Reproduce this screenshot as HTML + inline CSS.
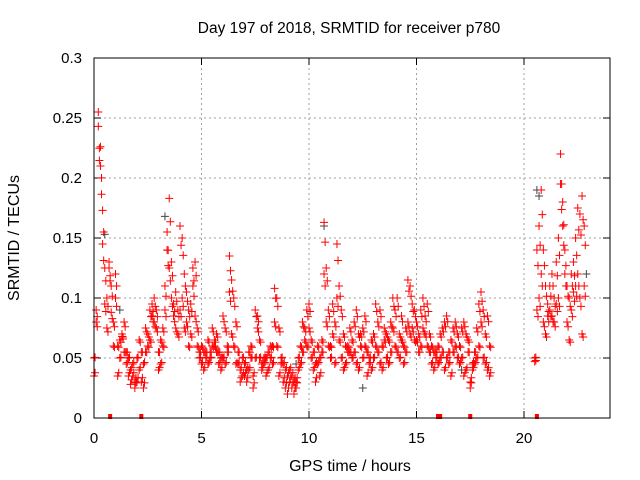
<!DOCTYPE html>
<html><head><meta charset="utf-8"><style>
body{margin:0;background:#fff}
svg{display:block;font-family:"Liberation Sans",sans-serif}
</style></head><body>
<svg id="chart" width="640" height="480"></svg>
<script>
// segment 1: hours 0.0 .. 18.4 step 0.1 ; segment 2: hours 20.5 .. 22.8 step 0.1 (values in TECU*1000)
const seg1Start = 0, seg2Start = 20.5, stepHours = 0.1;
const seg1A = [50,80,255,226,173,125,100,130,110,80, 120,60,50,70,55,45,50,40,35,30, 30,65,55,45,75,60,90,85,100,90, 55,45,60,90,140,183,130,95,105,90, 160,150,120,80,60,95,125,130,75,55, 60,55,50,45,55,60,65,70,55,50, 85,75,55,135,115,100,80,45,40,35, 45,40,55,50,35,90,85,65,45,50, 50,55,60,45,108,100,75,50,45,40, 35,30,25,20,30,50,60,80,75,90, 95,65,55,45,60,50,65,163,125,90, 60,95,80,145,110,90,70,60,55,75, 65,80,90,70,60,75,85,55,50,65, 70,95,80,90,60,75,70,65,80,100, 90,100,70,85,60,75,115,110,95,90, 80,70,90,100,85,95,70,60,55,50, 60,70,75,80,85,55,65,75,80,70, 60,75,80,70,65,30,45,55,75,95, 105,90,70,85,60];
const seg1B = [35,90,243,210,145,95,75,125,88,60, 100,35,65,68,80,55,35,28,45,25, 50,40,30,25,55,70,65,95,80,75, 40,65,75,110,155,125,100,85,75,70, 90,100,75,105,90,70,110,85,60,50, 45,40,55,65,50,75,60,55,45,40, 50,45,60,105,70,60,45,55,30,50, 35,30,40,60,25,50,75,50,40,45, 35,40,50,60,80,60,35,45,30,25, 20,40,35,30,25,40,45,55,65,60, 75,50,40,30,45,35,55,120,80,60, 50,70,45,100,65,50,40,45,60,55, 50,55,45,40,70,50,60,35,45,40, 50,60,55,45,40,65,50,45,55,75, 60,55,50,65,45,55,80,70,75,65, 65,55,60,75,70,60,55,45,40,55, 45,50,55,40,50,45,35,55,60,50, 45,50,35,40,55,25,40,45,50,60, 80,50,45,40,35];
const seg2A = [50,140,160,190,140,110,95,90,85,100,130,150,220,180,140,110,100,120,105,150,175,170,185,160];
const seg2B = [47,90,100,120,80,70,85,110,120,80,95,100,195,160,120,80,65,90,130,110,120,100,70,110];
const grayHours = [0.5,3.3,10.7,20.6,20.7,22.9,12.5,17.1,1.2,9.4];
const grayVals = [153,168,160,190,185,120,25,40,90,45];
const flagHours = [0.75,2.2,16.0,16.1,17.5,20.6];
const xTicks = [0,5,10,15,20];
const yTicks = [0,0.05,0.1,0.15,0.2,0.25,0.3];
const yTickLabels = ["0","0.05","0.1","0.15","0.2","0.25","0.3"];

const L=94,R=610,T=58,B=418,XMAX=24,YMAX=0.3;
const xs=h=>L+(h/XMAX)*(R-L);
const ys=v=>B-(v/YMAX)*(B-T);
const NS="http://www.w3.org/2000/svg";
const svg=document.getElementById('chart');
function mk(tag,attrs,parent){const e=document.createElementNS(NS,tag);for(const k in attrs)e.setAttribute(k,attrs[k]);(parent||svg).appendChild(e);return e;}

const grid=mk('g',{stroke:'#a0a0a0','stroke-width':1,'stroke-dasharray':'2,3'});


xTicks.forEach(t=>{if(t>0)mk('line',{x1:xs(t),x2:xs(t),y1:T,y2:B},grid);});
yTicks.forEach(t=>{if(t>0&&t<YMAX)mk('line',{x1:L,x2:R,y1:ys(t),y2:ys(t)},grid);});

const ax=mk('g',{stroke:'#000','stroke-width':1});


xTicks.forEach(t=>{
  mk('line',{x1:xs(t),x2:xs(t),y1:B,y2:B-7},ax);mk('line',{x1:xs(t),x2:xs(t),y1:T,y2:T+7},ax);
  const tx=mk('text',{x:xs(t),y:B+25,'text-anchor':'middle','font-size':15,fill:'#000',stroke:'none'});
  tx.textContent=t;
  
  
});
yTicks.forEach((t,i)=>{
  mk('line',{x1:L,x2:L+7,y1:ys(t),y2:ys(t)},ax);mk('line',{x1:R,x2:R-7,y1:ys(t),y2:ys(t)},ax);
  const tx=mk('text',{x:L-12,y:ys(t)+5,'text-anchor':'end','font-size':15,fill:'#000',stroke:'none'});
  tx.textContent=yTickLabels[i];
  
  
});

function plus(h,v,color,parent){
  const x=xs(h),y=ys(v);
  const p=mk('path',{d:`M${x-4} ${y}H${x+4}M${x} ${y-4}V${y+4}`,stroke:color,'stroke-width':1,fill:'none'},parent);
  
  
}
const gg=mk('g',{});


grayHours.forEach((h,i)=>plus(h,grayVals[i]/1000,'#444',gg));
const rg=mk('g',{});


[seg1A,seg1B].forEach(arr=>arr.forEach((v,i)=>{plus(seg1Start+i*stepHours,v/1000,'#f00',rg);plus(seg1Start+i*stepHours+0.05,(v*0.85+8)/1000,'#f00',rg);}));
[seg2A,seg2B].forEach(arr=>arr.forEach((v,i)=>{plus(seg2Start+i*stepHours,v/1000,'#f00',rg);plus(seg2Start+i*stepHours+0.05,(v*0.85+8)/1000,'#f00',rg);}));
flagHours.forEach(h=>{
  const r=mk('rect',{x:xs(h)-2,y:B-4,width:4,height:5,fill:'#f00'});
  
  
});

const fr=mk('rect',{x:L,y:T,width:R-L,height:B-T,fill:'none',stroke:'#000','stroke-width':1});



const ti=mk('text',{x:349,y:33,'text-anchor':'middle','font-size':15.5,fill:'#000'});
ti.textContent='Day 197 of 2018, SRMTID for receiver p780';


const xl=mk('text',{x:350,y:471,'text-anchor':'middle','font-size':16,fill:'#000'});
xl.textContent='GPS time / hours';


const yl=mk('text',{x:0,y:0,'text-anchor':'middle','font-size':16,fill:'#000',transform:'translate(19,238) rotate(-90)'});
yl.textContent='SRMTID / TECUs';


</script>
</body></html>
